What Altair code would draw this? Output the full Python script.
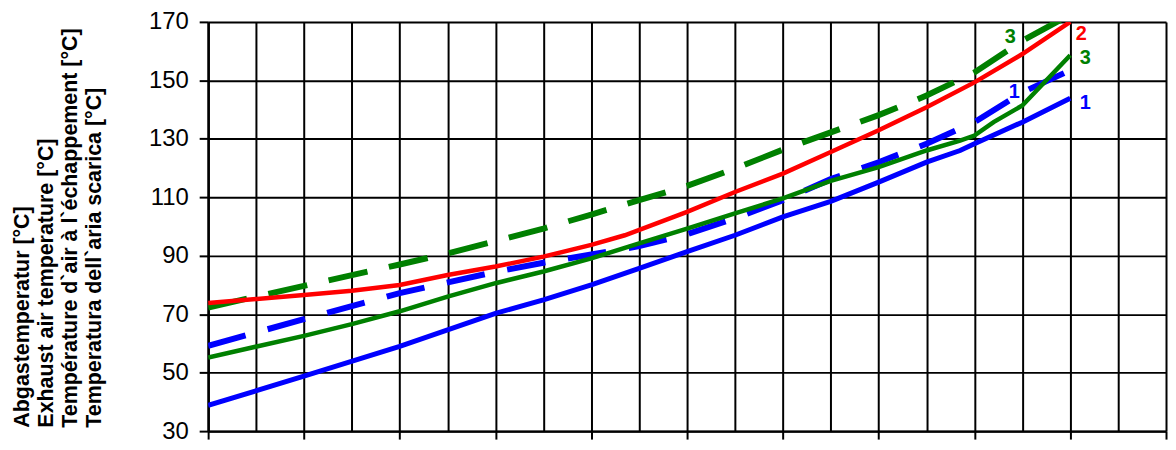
import altair as alt
import pandas as pd

# ---- data ----
# curve 1 (blue, solid)
x_1s = [0, 2, 4, 6, 7, 8, 9, 10, 11, 12, 13, 14, 15, 15.7, 16, 17, 18]
y_1s = [38.8, 48.8, 59, 70.3, 74.9, 80, 85.7, 91.4, 97, 103.3, 108.6, 115.2, 122, 126, 128.3, 135.7, 143.9]
# curve 1 (blue, dashed)
x_1d = [0, 2, 4, 6, 7, 8, 9, 10, 11, 12, 13, 14, 15, 16, 17, 17.9]
y_1d = [59.2, 68.3, 77.2, 84.5, 87.6, 90.4, 93.3, 97.4, 102.8, 109, 116.2, 122, 128.3, 135.7, 145.9, 152.7]
# curve 2 (red, solid)
x_2s = [0, 2, 3, 4, 5, 6, 7, 8, 8.7, 10, 11, 12, 13, 14, 15, 16, 17, 18]
y_2s = [73.8, 76.6, 78, 80, 83.4, 86.3, 89.7, 93.7, 97, 105, 111.8, 118.1, 125.5, 132.9, 140.8, 149.3, 159, 170]
# curve 3 (green, solid)
x_3s = [0, 2, 3, 4, 5, 6, 7, 8, 9, 10, 11, 12, 13, 14, 15, 15.7, 16, 16.4, 17, 18]
y_3s = [55.2, 62.6, 66.6, 71, 76, 80.6, 84.6, 89.1, 94.2, 99.3, 104.5, 109.6, 115.6, 120.3, 126, 129.4, 131.1, 135.7, 141.4, 158.6]
# curve 3 (green, dashed)
x_3d = [0, 2, 4, 5, 6, 7, 8, 9, 10, 11, 12, 13, 14, 15, 16, 17, 18]
y_3d = [72.3, 79.7, 87, 90.8, 95, 99.3, 104.1, 109, 113.9, 119.8, 126.3, 132.2, 138.1, 144.8, 152.7, 163.5, 172.5]

y_ticks = [30, 50, 70, 90, 110, 130, 150, 170]
x_grid = list(range(0, 21))
y_title = [
    "Abgastemperatur [°C]",
    "Exhaust air temperature [°C]",
    "Température d`air à l`échappement [°C]",
    "Temperatura dell`aria scarica [°C]",
]

series = {
    "1s": (x_1s, y_1s),
    "1d": (x_1d, y_1d),
    "2s": (x_2s, y_2s),
    "3s": (x_3s, y_3s),
    "3d": (x_3d, y_3d),
}
rows = []
for key, (xs, ys) in series.items():
    for xv, yv in zip(xs, ys):
        rows.append({"s": key, "x": xv, "y": yv})
df = pd.DataFrame(rows)

FONT = "Liberation Sans"

x_enc = alt.X(
    "x:Q",
    scale=alt.Scale(domain=[0, 20], nice=False, zero=False),
    axis=alt.Axis(
        values=x_grid, labels=False, title=None, grid=True,
        tickSize=8, tickWidth=2, tickColor="black",
        tickOpacity={"condition": {"test": "datum.value % 2 === 0", "value": 1}, "value": 0},
        gridColor="black", gridWidth=2, gridOpacity=1,
        domainColor="black", domainWidth=2.5,
    ),
)
y_enc = alt.Y(
    "y:Q",
    scale=alt.Scale(domain=[30, 170], nice=False, zero=False),
    axis=alt.Axis(
        values=y_ticks, grid=True, gridColor="black", gridWidth=2, gridOpacity=1,
        tickSize=9, tickWidth=2, tickColor="black",
        labelFont=FONT, labelFontSize=24, labelColor="black", labelPadding=11,
        domainColor="black", domainWidth=2.5,
        title=y_title, titleFont=FONT, titleFontSize=21.5, titleFontWeight="bold",
        titleColor="black", titleLineHeight=24, titleAngle=270,
        titleAlign="left", titleBaseline="alphabetic",
        titleX=-180, titleY=407,
    ),
)

base = alt.Chart(df).encode(x=x_enc, y=y_enc)


def line(key, color, width, dash=None):
    kw = dict(color=color, strokeWidth=width, clip=True, strokeCap="butt")
    if dash:
        kw["strokeDash"] = dash
    return base.transform_filter(alt.datum.s == key).mark_line(**kw)


layers = [
    line("1s", "#0000FF", 5),
    line("1d", "#0000FF", 6, [39, 23]),
    line("3s", "#008000", 4.5),
    line("3d", "#008000", 6, [40, 22]),
    line("2s", "#FF0000", 4.5),
]


def label(key, idx, text, color, dx, dy):
    xs, ys = series[key]
    d = pd.DataFrame({"x": [xs[idx]], "y": [ys[idx]], "t": [text]})
    return alt.Chart(d).mark_text(
        font=FONT, fontSize=20, fontWeight="bold", color=color,
        align="center", baseline="middle", dx=dx, dy=dy,
    ).encode(x=alt.X("x:Q"), y=alt.Y("y:Q"), text="t:N")


labels = [
    label("2s", -1, "2", "#FF0000", 11, 12),
    label("3s", -1, "3", "#008000", 15, 3),
    label("1s", -1, "1", "#0000FF", 15, 5),
    label("1d", x_1d.index(17), "1", "#0000FF", -8, 0),
    label("3d", x_3d.index(17), "3", "#008000", -12, -4),
]

chart = alt.layer(*layers, *labels).properties(
    width=962, height=411,
    autosize=alt.AutoSizeParams(type="none"),
    padding={"left": 201, "top": 13, "right": 2, "bottom": 16},
).configure_view(stroke="black", strokeWidth=2.5).configure(background="white")

chart.save("out.html", embed_options={"renderer": "svg", "actions": False})
